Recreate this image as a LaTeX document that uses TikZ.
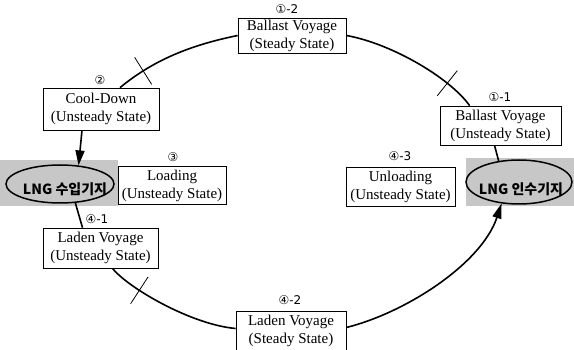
\documentclass[tikz,border=0pt]{standalone}
\usepackage{fontspec}
\setmainfont{Liberation Serif}
\newfontfamily\djv{DejaVu Sans}
\newfontfamily\krf{Noto Sans CJK KR}
\usetikzlibrary{arrows.meta,decorations.markings,shapes.geometric}
\begin{document}
\begin{tikzpicture}[x=1pt,y=-1pt,
  box/.style={draw, line width=0.7pt, fill=white, align=center, inner sep=0pt,
    font=\fontsize{15}{18}\selectfont},
  num/.style={font=\djv\fontsize{12}{13}\selectfont, inner sep=0pt},
  base/.style={ellipse, draw, line width=1.5pt, inner sep=0pt},
  kor/.style={font=\krf\bfseries\fontsize{14}{16}\selectfont, inner sep=0pt},
  halftone/.style={fill=black!22, draw=none},
  route/.style={line width=1.6pt},
  brk/.style={postaction={decorate, decoration={markings,
    mark=at position #1 with {\draw[line width=0.8pt] (0,-16pt) -- (0,16pt);}}}},
  tip/.style={-{Triangle[length=15pt,width=9pt]}}
]
\useasboundingbox (0,0) rectangle (574,350);
% halftone backgrounds of the two terminals
\fill[halftone] (0,160) rectangle (118,206);
\fill[halftone] (466,158) rectangle (574,206);
% terminals
\node[base, minimum width=108pt, minimum height=38pt,
  label={[kor, yshift=-5pt, xshift=5pt]center:LNG 수입기지}] (lE) at (60,184) {};
\node[base, minimum width=106pt, minimum height=44pt,
  label={[kor, yshift=-7pt, xshift=2pt]center:LNG 인수기지}] (rE) at (519,182) {};
% state boxes
\node[box, minimum width=108pt, minimum height=35pt] (top) at (292,35.5) {Ballast Voyage\\(Steady State)};
\node[box, minimum width=116pt, minimum height=42pt] (cool) at (101,109) {Cool-Down\\(Unsteady State)};
\node[box, minimum width=121pt, minimum height=39pt] (bu) at (500.5,125.5) {Ballast Voyage\\(Unsteady State)};
\node[box, minimum width=108pt, minimum height=38pt] (load) at (172,185.5) {Loading\\(Unsteady State)};
\node[box, minimum width=109pt, minimum height=39pt] (unload) at (400.5,186.5) {Unloading\\(Unsteady State)};
\node[box, minimum width=115pt, minimum height=40pt] (lu) at (100.5,248) {Laden Voyage\\(Unsteady State)};
\node[box, minimum width=110pt, minimum height=39pt] (bot) at (291,330.5) {Laden Voyage\\(Steady State)};
% step numbers
\node[num] (n12) at (287,9) {①-2};
\node[num] (n2) at (100,80) {②};
\node[num] (n11) at (500,97) {①-1};
\node[num] (n3) at (173,157) {③};
\node[num] (n43) at (400,156) {④-3};
\node[num] (n41) at (97,219) {④-1};
\node[num] (n42) at (290,300) {④-2};
% route
\draw[route, brk=0.22] ([xshift=19pt]cool.north) .. controls +(35,-29) and +(-44,9) .. (top.west);
\draw[route, brk=0.78] (top.east) .. controls +(45,8) and +(-20,-28) .. ([xshift=30pt]bu.north west);
\draw[route] ([xshift=-6pt]bu.south) -- (rE.134);
\draw[route, tip] ([yshift=3pt]bot.east) .. controls +(60,-15) and +(-20,60) .. (rE.-129);
\draw[route] (lE.-51) -- ([xshift=-18pt]lu.north);
\draw[route, brk=0.25] ([xshift=12pt]lu.south) .. controls +(15,19) and +(-45,-4) .. ([yshift=2pt]bot.west);
\draw[route, tip] ([xshift=-19pt]cool.south) -- (lE.45);
\end{tikzpicture}
\end{document}
